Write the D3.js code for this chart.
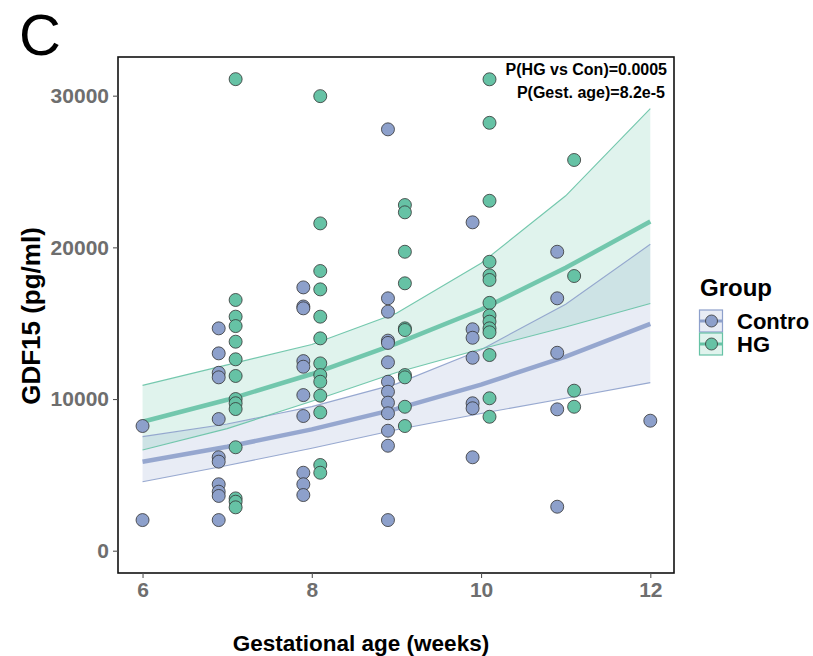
<!DOCTYPE html>
<html>
<head>
<meta charset="utf-8">
<script src="https://cdn.jsdelivr.net/npm/d3@7"></script>
<style>
  body { margin: 0; background: #fff; }
  svg text { font-family: "Liberation Sans", Arial, sans-serif; }
</style>
</head>
<body>
<svg id="chart" width="813" height="656"></svg>
<script>
// points, grouped by gestational age column (columns dodged around the week)
var controlCols = [6, 6.9, 7.9, 8.9, 9.9, 10.9, 12];
var controlVals = [
    [8220, 2020],
    [14660, 13010, 11730, 11430, 8680, 6160, 5870, 4380, 3890, 3610, 2020],
    [17360, 16100, 15980, 12500, 12130, 10260, 8880, 5140, 4380, 3670],
    [27780, 16640, 15760, 13850, 13700, 12420, 11140, 10480, 9760, 9060, 7910, 6920, 2020],
    [21650, 14600, 14040, 12720, 9720, 9390, 6160],
    [19710, 16640, 13050, 9320, 2900],
    [8570]
];
var hgCols = [7.1, 8.1, 9.1, 10.1, 11.1];
var hgVals = [
    [31090, 16530, 15430, 14810, 13780, 12620, 11520, 10000, 9720, 9340, 6820, 3450, 3230, 2860],
    [29970, 21580, 18440, 17230, 15430, 14000, 12350, 11580, 11140, 10220, 9120, 5650, 5140],
    [22790, 22310, 19710, 17630, 14660, 14550, 11580, 11430, 9490, 8220],
    [31080, 28210, 23070, 19050, 18150, 17850, 16340, 15500, 15100, 14660, 14400, 12900, 10050, 8830],
    [25760, 18110, 10550, 9490]
];

// fitted curve and confidence band
var fitWeeks = [6, 7, 8, 9, 10, 11, 12];
var hgFit  = [8500, 9950, 11650, 13650, 15900, 18650, 21700];
var hgLow  = [6640, 8050, 9850, 11750, 13300, 14750, 16300];
var hgHigh = [10900, 12250, 13600, 15650, 18950, 23400, 29150];
var conFit  = [5870, 6850, 8000, 9350, 10950, 12800, 14950];
var conLow  = [4550, 5620, 6750, 7980, 9050, 10050, 11080];
var conHigh = [7520, 8350, 9500, 11000, 13250, 16250, 20200];

var xTicks = [6, 8, 10, 12];
var yTicks = [0, 10000, 20000, 30000];
var groups = ["Contro", "HG"];
var pLabels = ["P(HG vs Con)=0.0005", "P(Gest. age)=8.2e-5"];

var colors = { Contro: "#8da0cb", HG: "#66c2a5" };

var svg = d3.select("#chart"),
    panel = { left: 118, right: 674, top: 57, bottom: 573 },
    x = d3.scaleLinear().domain([5.71, 12.28]).range([panel.left, panel.right]),
    y = d3.scaleLinear().domain([-1470, 32550]).range([panel.bottom, panel.top]);

function fitRows(fit, low, high) {
    return fitWeeks.map(function(w, i) { return { w: w, fit: fit[i], low: low[i], high: high[i] }; });
}
var bands = [
    { group: "Contro", rows: fitRows(conFit, conLow, conHigh) },
    { group: "HG", rows: fitRows(hgFit, hgLow, hgHigh) }
];

var area = d3.area().x(d => x(d.w)).y0(d => y(d.low)).y1(d => y(d.high));
var lineOf = key => d3.line().x(d => x(d.w)).y(d => y(d[key]));

var g = svg.append("g");

bands.forEach(function(b) {
    g.append("path").datum(b.rows).attr("d", area)
        .attr("fill", colors[b.group]).attr("fill-opacity", 0.2);
});
bands.forEach(function(b) {
    ["low", "high"].forEach(function(k) {
        g.append("path").datum(b.rows).attr("d", lineOf(k))
            .attr("fill", "none").attr("stroke", colors[b.group])
            .attr("stroke-width", 1.1).attr("stroke-opacity", 0.9);
    });
    g.append("path").datum(b.rows).attr("d", lineOf("fit"))
        .attr("fill", "none").attr("stroke", colors[b.group])
        .attr("stroke-width", 4.5).attr("stroke-opacity", 0.9);
});

function flatten(cols, vals, group) {
    var out = [];
    cols.forEach(function(c, i) {
        vals[i].forEach(function(v) { out.push({ x: c, y: v, group: group }); });
    });
    return out;
}
var points = flatten(controlCols, controlVals, "Contro").concat(flatten(hgCols, hgVals, "HG"));

g.selectAll(".pt")
    .data(points)
    .enter().append("circle")
    .attr("class", "pt")
    .attr("cx", d => x(d.x))
    .attr("cy", d => y(d.y))
    .attr("r", 6.5)
    .attr("fill", d => colors[d.group])
    .attr("stroke", "#333")
    .attr("stroke-width", 0.8);

// panel border
svg.append("rect")
    .attr("x", panel.left).attr("y", panel.top)
    .attr("width", panel.right - panel.left).attr("height", panel.bottom - panel.top)
    .attr("fill", "none").attr("stroke", "#111").attr("stroke-width", 1.6);

// axes
var xAxis = svg.append("g")
    .attr("transform", "translate(0," + panel.bottom + ")")
    .call(d3.axisBottom(x).tickValues(xTicks).tickSize(5).tickPadding(4).tickFormat(d3.format("d")));
var yAxis = svg.append("g")
    .attr("transform", "translate(" + panel.left + ",0)")
    .call(d3.axisLeft(y).tickValues(yTicks).tickSize(5).tickPadding(4).tickFormat(d3.format("d")));
[xAxis, yAxis].forEach(function(a) {
    a.select(".domain").remove();
    a.selectAll(".tick line").attr("stroke", "#555").attr("stroke-width", 1.1);
    a.selectAll(".tick text")
        .attr("fill", "#6e6e6e")
        .style("font-size", "21px")
        .style("font-weight", "bold");
});

// titles
svg.append("text")
    .attr("x", 361).attr("y", 651)
    .attr("text-anchor", "middle")
    .style("font-size", "22.5px").style("font-weight", "bold")
    .text("Gestational age (weeks)");
svg.append("text")
    .attr("transform", "translate(40,316) rotate(-90)")
    .attr("text-anchor", "middle")
    .style("font-size", "26px").style("font-weight", "bold")
    .text("GDF15 (pg/ml)");
svg.append("text")
    .attr("x", 19).attr("y", 55)
    .style("font-size", "58px")
    .text("C");

// p-values
pLabels.forEach(function(t, i) {
    svg.append("text")
        .attr("x", 667 - i * 2).attr("y", 75 + i * 23)
        .attr("text-anchor", "end")
        .style("font-size", "16px").style("font-weight", "bold")
        .text(t);
});

// legend
var legend = svg.append("g").attr("transform", "translate(699,0)");
legend.append("text")
    .attr("x", 1).attr("y", 296)
    .style("font-size", "24px").style("font-weight", "bold")
    .text("Group");
groups.forEach(function(grp, i) {
    var top = 310 + i * 23;
    legend.append("rect")
        .attr("x", 0.5).attr("y", top).attr("width", 23).attr("height", 22)
        .attr("fill", colors[grp]).attr("fill-opacity", 0.2)
        .attr("stroke", colors[grp]).attr("stroke-width", 1.2);
    legend.append("line")
        .attr("x1", 1).attr("x2", 23).attr("y1", top + 11).attr("y2", top + 11)
        .attr("stroke", colors[grp]).attr("stroke-width", 3);
    legend.append("circle")
        .attr("cx", 12.5).attr("cy", top + 11).attr("r", 6)
        .attr("fill", colors[grp]).attr("stroke", "#333").attr("stroke-width", 0.8);
    legend.append("text")
        .attr("x", 38).attr("y", top + 19)
        .style("font-size", "22px").style("font-weight", "bold")
        .text(grp);
});
</script>
</body>
</html>
